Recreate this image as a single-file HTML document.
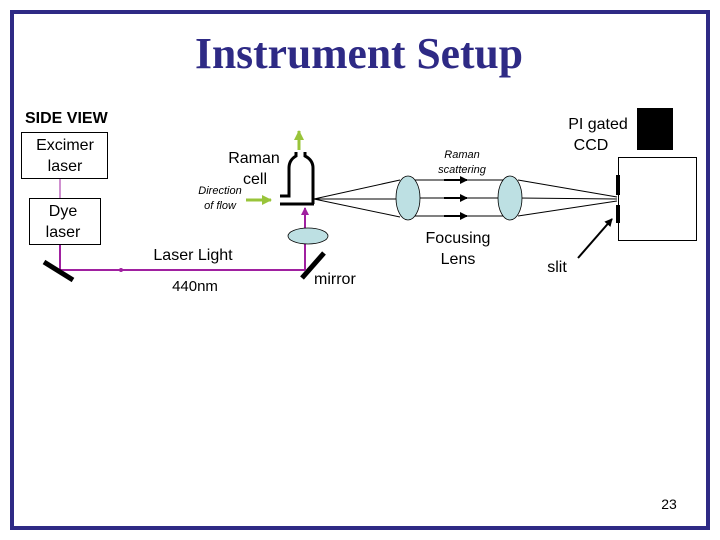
<!DOCTYPE html>
<html><head><meta charset="utf-8"><style>
html,body{margin:0;padding:0;background:#fff;}
svg{display:block;}
text{font-family:"Liberation Sans",Arial,sans-serif;}
</style></head><body>
<svg width="720" height="540" viewBox="0 0 720 540" xmlns="http://www.w3.org/2000/svg">
<defs>
<marker id="ah" markerWidth="8" markerHeight="8" refX="7" refY="4" orient="auto" markerUnits="userSpaceOnUse"><path d="M0,0 L8,4 L0,8 z" fill="#000"/></marker>
<marker id="ag" markerWidth="10" markerHeight="10" refX="9" refY="5" orient="auto" markerUnits="userSpaceOnUse"><path d="M0,0 L10,5 L0,10 z" fill="#99c43a"/></marker>
<marker id="am" markerWidth="8" markerHeight="8" refX="7" refY="4" orient="auto" markerUnits="userSpaceOnUse"><path d="M0,0 L8,4 L0,8 z" fill="#a020a0"/></marker>
</defs>
<rect x="0" y="0" width="720" height="540" fill="#fff"/>
<rect x="12" y="12" width="696" height="516" fill="none" stroke="#2e2a85" stroke-width="4"/>
<text x="359" y="68" font-family="Liberation Serif,serif" font-weight="bold" font-size="44" fill="#2e2a85" text-anchor="middle" textLength="328" lengthAdjust="spacingAndGlyphs" style="font-family:'Liberation Serif',serif">Instrument Setup</text>
<text x="25" y="123" font-weight="bold" font-size="16" fill="#000">SIDE VIEW</text>
<!-- boxes -->
<rect x="21.5" y="132.5" width="86" height="46" fill="#fff" stroke="#000"/>
<text x="65" y="150" font-size="16" text-anchor="middle">Excimer</text>
<text x="65" y="171" font-size="16" text-anchor="middle">laser</text>
<rect x="29.5" y="198.5" width="71" height="46" fill="#fff" stroke="#000"/>
<text x="63" y="216" font-size="16" text-anchor="middle">Dye</text>
<text x="63" y="237" font-size="16" text-anchor="middle">laser</text>
<line x1="60" y1="179" x2="60" y2="198" stroke="#a020a0" stroke-width="1"/>
<!-- beam -->
<line x1="60" y1="245" x2="60" y2="270" stroke="#a020a0" stroke-width="2"/>
<line x1="60" y1="270" x2="305" y2="270" stroke="#a020a0" stroke-width="2"/>
<circle cx="121" cy="270" r="2" fill="#a020a0"/>
<line x1="305" y1="270" x2="305" y2="208" stroke="#a020a0" stroke-width="2" marker-end="url(#am)"/>
<line x1="44" y1="262" x2="73" y2="280" stroke="#000" stroke-width="5"/>
<line x1="302" y1="278" x2="324" y2="253" stroke="#000" stroke-width="5"/>
<ellipse cx="308" cy="236" rx="20" ry="8" fill="#bde0e3" stroke="#000" stroke-width="0.8"/>
<!-- raman cell -->
<path d="M280,196 H289 V168 Q289,160 296,156 V152 M313,204 V168 Q313,160 305,156 V152" fill="none" stroke="#000" stroke-width="3"/>
<line x1="280" y1="204" x2="314" y2="204" stroke="#000" stroke-width="3"/>
<line x1="299" y1="150" x2="299" y2="131" stroke="#99c43a" stroke-width="3" marker-end="url(#ag)"/>
<line x1="246" y1="200" x2="271" y2="200" stroke="#99c43a" stroke-width="3" marker-end="url(#ag)"/>
<text x="254" y="163" font-size="16" text-anchor="middle">Raman</text>
<text x="255" y="184" font-size="16" text-anchor="middle">cell</text>
<text x="220" y="194" font-size="11" font-style="italic" text-anchor="middle">Direction</text>
<text x="220" y="209" font-size="11" font-style="italic" text-anchor="middle">of flow</text>
<!-- rays -->
<g stroke="#000" stroke-width="1" fill="none">
<line x1="314" y1="199" x2="400" y2="180"/>
<line x1="314" y1="199" x2="400" y2="199"/>
<line x1="314" y1="199" x2="400" y2="217"/>
<line x1="408" y1="180" x2="510" y2="180"/>
<line x1="408" y1="198" x2="510" y2="198"/>
<line x1="408" y1="216" x2="510" y2="216"/>
<line x1="518" y1="180" x2="617" y2="197"/>
<line x1="518" y1="198" x2="617" y2="199"/>
<line x1="518" y1="216" x2="617" y2="201"/>
</g>
<g stroke="#000" stroke-width="2">
<line x1="444" y1="180" x2="467" y2="180" marker-end="url(#ah)"/>
<line x1="444" y1="198" x2="467" y2="198" marker-end="url(#ah)"/>
<line x1="444" y1="216" x2="467" y2="216" marker-end="url(#ah)"/>
</g>
<ellipse cx="408" cy="198" rx="12" ry="22" fill="#bde0e3" stroke="#000" stroke-width="0.8"/>
<ellipse cx="510" cy="198" rx="12" ry="22" fill="#bde0e3" stroke="#000" stroke-width="0.8"/>
<text x="462" y="158" font-size="11" font-style="italic" text-anchor="middle">Raman</text>
<text x="462" y="173" font-size="11" font-style="italic" text-anchor="middle">scattering</text>
<text x="458" y="243" font-size="16" text-anchor="middle">Focusing</text>
<text x="458" y="264" font-size="16" text-anchor="middle">Lens</text>
<text x="193" y="260" font-size="16" text-anchor="middle">Laser Light</text>
<text x="195" y="291" font-size="15" text-anchor="middle">440nm</text>
<text x="314" y="284" font-size="16">mirror</text>
<!-- CCD -->
<rect x="618.5" y="157.5" width="78" height="83" fill="#fff" stroke="#000"/>
<rect x="637" y="108" width="36" height="42" fill="#000"/>
<rect x="616" y="175" width="4" height="20" fill="#000"/>
<rect x="616" y="205" width="4" height="18" fill="#000"/>
<text x="598" y="129" font-size="16" text-anchor="middle">PI gated</text>
<text x="591" y="150" font-size="16" text-anchor="middle">CCD</text>
<line x1="578" y1="258" x2="612" y2="219" stroke="#000" stroke-width="2" marker-end="url(#ah)"/>
<text x="557" y="272" font-size="16" text-anchor="middle">slit</text>
<text x="669" y="509" font-size="14" text-anchor="middle">23</text>
</svg>
</body></html>
